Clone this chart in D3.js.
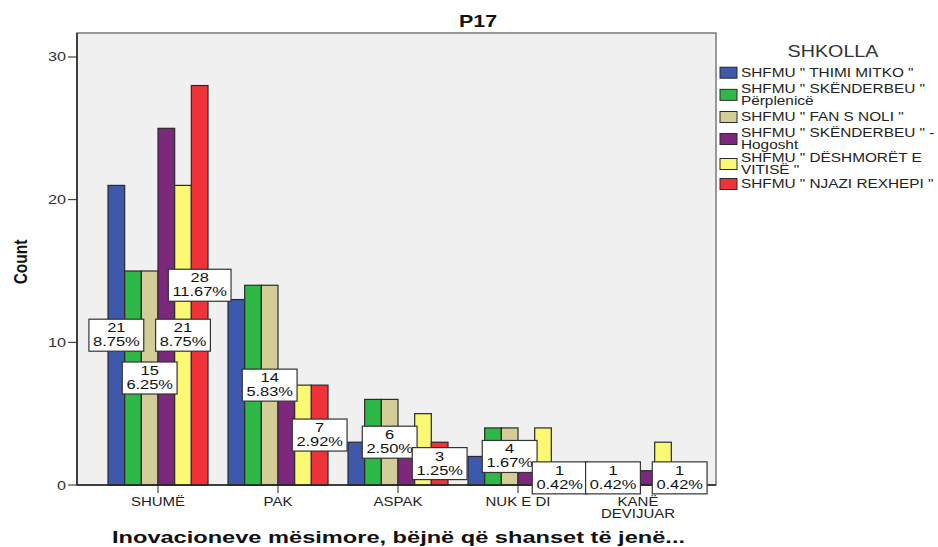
<!DOCTYPE html>
<html>
<head>
<meta charset="utf-8">
<script src="https://cdn.jsdelivr.net/npm/d3@7"></script>
<style>
  html, body { margin: 0; padding: 0; background: #ffffff; }
  svg { display: block; font-family: "Liberation Sans", Arial, sans-serif; }
</style>
</head>
<body>
<svg id="chart" width="938" height="547"></svg>
<script>
// ---------------- DATA ----------------
const categories = ["SHUMË", "PAK", "ASPAK", "NUK E DI", "KANË DEVIJUAR"];
const categoryLines = [["SHUMË"], ["PAK"], ["ASPAK"], ["NUK E DI"], ["KANË", "DEVIJUAR"]];
const schools = [
  ["SHFMU \" THIMI MITKO \""],
  ["SHFMU \" SKËNDERBEU \"", "Përplenicë"],
  ["SHFMU \" FAN S NOLI \""],
  ["SHFMU \" SKËNDERBEU \" -", "Hogosht"],
  ["SHFMU \" DËSHMORËT E", "VITISË \""],
  ["SHFMU \" NJAZI REXHEPI \""]
];
const thimiMitko   = [21, 13, 3, 2, 1];
const skPerplenice = [15, 14, 6, 4, 1];
const fanSNoli     = [15, 14, 6, 4, 1];
const skHogosht    = [25, 8, 3, 3, 1];
const deshmoret    = [21, 7, 5, 4, 3];
const njaziRexhepi = [28, 7, 3, 1, 1];
const seriesValues = [thimiMitko, skPerplenice, fanSNoli, skHogosht, deshmoret, njaziRexhepi];
const totalCount = 240;
const colors = ["#3E58AC", "#2EB848", "#D3CE97", "#7C287D", "#FBF873", "#EF3338"];
const yTicks = [0, 10, 20, 30];
// bar labels that are visible in the chart: [category index, series index]
const shownLabels = [[0,0],[0,2],[0,4],[0,5],[1,2],[1,5],[2,2],[2,5],[3,2],[3,5],[4,1],[4,5]];
const chartTitle = "P17";
const yTitle = "Count";
const xTitle = "Inovacioneve mësimore, bëjnë që shanset të jenë...";
const legendTitle = "SHKOLLA";

// ---------------- LAYOUT ----------------
const svg = d3.select("#chart");
const plot = { left: 77, right: 716, top: 33, bottom: 485 };
const FONT = "'Liberation Sans', Arial, sans-serif";

const y = d3.scaleLinear().domain([0, (plot.bottom - plot.top) / 14.267]).range([plot.bottom, plot.top]);
const x0 = d3.scaleBand().domain(d3.range(categories.length)).range([98, 698]).paddingInner(1/6).paddingOuter(1/12);
const x1 = d3.scaleBand().domain(d3.range(schools.length)).range([0, x0.bandwidth()]);

function stext(g, x, yy, str, o) {
  o = o || {};
  const sx = o.sx || 1;
  return g.append("text")
    .attr("transform", `translate(${x},${yy}) scale(${sx},1)` + (o.rot ? ` rotate(${o.rot})` : ""))
    .attr("text-anchor", o.anchor || "start")
    .attr("font-size", o.size || 12)
    .attr("font-weight", o.weight || "normal")
    .attr("fill", o.fill || "#222")
    .attr("font-family", FONT)
    .text(str);
}

// plot background / frame
svg.append("rect")
  .attr("x", plot.left).attr("y", plot.top)
  .attr("width", plot.right - plot.left).attr("height", plot.bottom - plot.top)
  .attr("fill", "#f0f0f0").attr("stroke", "#7a7a7a").attr("stroke-width", 1.5);

// bars
const gBars = svg.append("g");
categories.forEach((c, ci) => {
  seriesValues.forEach((vals, si) => {
    const v = vals[ci];
    gBars.append("rect")
      .attr("x", x0(ci) + x1(si))
      .attr("y", y(v))
      .attr("width", x1.bandwidth())
      .attr("height", y(0) - y(v))
      .attr("fill", colors[si])
      .attr("stroke", "#2a2a2a")
      .attr("stroke-width", 1.2);
  });
});

// axes
const axisColor = "#222";
svg.append("line").attr("x1", plot.left).attr("x2", plot.left).attr("y1", plot.top).attr("y2", plot.bottom)
  .attr("stroke", axisColor).attr("stroke-width", 1.5);
svg.append("line").attr("x1", plot.left).attr("x2", plot.right).attr("y1", plot.bottom).attr("y2", plot.bottom)
  .attr("stroke", axisColor).attr("stroke-width", 1.5);

const gy = svg.append("g");
yTicks.forEach(t => {
  gy.append("line").attr("x1", plot.left - 9).attr("x2", plot.left).attr("y1", y(t)).attr("y2", y(t))
    .attr("stroke", axisColor).attr("stroke-width", 1);
  stext(gy, plot.left - 11, y(t) + 4.5, String(t), { anchor: "end", size: 12.5, sx: 1.3, fill: "#333" });
});

const gx = svg.append("g");
categories.forEach((c, ci) => {
  const cx = x0(ci) + x0.bandwidth() / 2;
  gx.append("line").attr("x1", cx).attr("x2", cx).attr("y1", plot.bottom).attr("y2", plot.bottom + 8)
    .attr("stroke", axisColor).attr("stroke-width", 1);
  categoryLines[ci].forEach((ln, li) => {
    stext(gx, cx, 506 + li * 12, ln, { anchor: "middle", size: 12.5, sx: 1.2, fill: "#222" });
  });
});

// bar labels
const gLab = svg.append("g");
shownLabels.forEach(([ci, si]) => {
  const v = seriesValues[si][ci];
  const cx = x0(ci) + x1(si) + x1.bandwidth() / 2;
  const cy = y(v / 2);
  const g = gLab.append("g");
  const box = g.append("rect");
  const sx = 1.37;
  const t1 = stext(g, cx, cy - 3, String(v), { anchor: "middle", size: 12, sx, fill: "#111" });
  const t2 = stext(g, cx, cy + 11, (v / totalCount * 100).toFixed(2) + "%", { anchor: "middle", size: 12, sx, fill: "#111" });
  const w = Math.max(t1.node().getBBox().width, t2.node().getBBox().width) * sx + 8;
  box.attr("x", cx - w / 2).attr("y", cy - 16).attr("width", w).attr("height", 32)
    .attr("fill", "#ffffff").attr("stroke", "#333").attr("stroke-width", 1.2);
});

// titles
stext(svg, 478, 27, chartTitle, { anchor: "middle", size: 16.5, weight: "bold", sx: 1.3, fill: "#111" });
svg.append("text")
  .attr("transform", `translate(27,262) scale(1.2,1) rotate(-90)`)
  .attr("text-anchor", "middle").attr("font-size", 15.5).attr("font-weight", "bold")
  .attr("font-family", FONT).attr("fill", "#111").text(yTitle);
svg.append("text")
  .attr("x", 112).attr("y", 543)
  .attr("font-size", 17).attr("font-weight", "bold").attr("font-family", FONT).attr("fill", "#111")
  .attr("textLength", 573).attr("lengthAdjust", "spacingAndGlyphs")
  .text(xTitle);

// legend
const gLeg = svg.append("g");
stext(gLeg, 833, 57, legendTitle, { anchor: "middle", size: 17, sx: 1.16, fill: "#333" });
const rowY = [[72.7], [89, 100.7], [117], [133, 145], [158, 170], [184]];
schools.forEach((lines, si) => {
  const ys = rowY[si];
  const mid = (ys[0] + ys[ys.length - 1]) / 2;
  gLeg.append("rect").attr("x", 720).attr("y", mid - 5.5).attr("width", 17).attr("height", 11)
    .attr("fill", colors[si]).attr("stroke", "#2a2a2a").attr("stroke-width", 1);
  lines.forEach((ln, li) => {
    stext(gLeg, 741, ys[li] + 4.3, ln, { size: 12, sx: 1.28, fill: "#222" });
  });
});
</script>
</body>
</html>
